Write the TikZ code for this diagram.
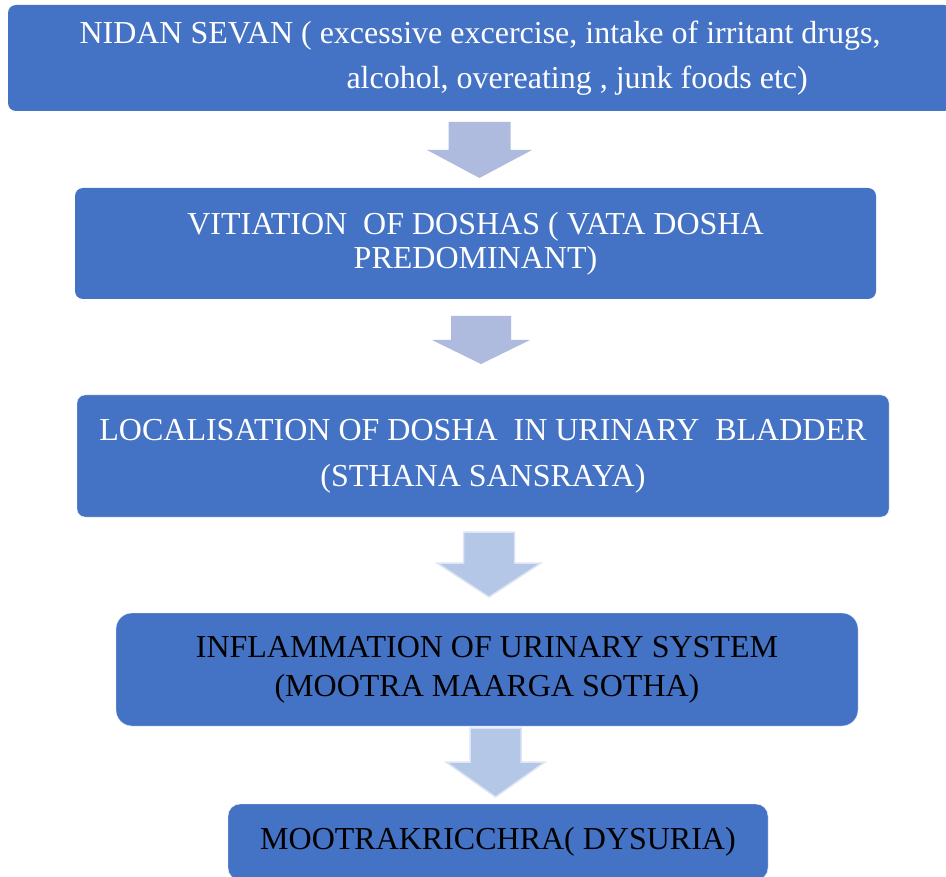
\documentclass[tikz,border=0pt]{standalone}
\usepackage{fontspec}
\setmainfont{Liberation Serif}
\definecolor{boxblue}{HTML}{4472C4}
\definecolor{arrowlav}{HTML}{AFBADF}
\definecolor{arrowsky}{HTML}{B4C7E7}
\definecolor{arrowrim}{HTML}{DDE5F4}
% down block arrow: centre x, top, head start, tip, shaft half, head half, style
\newcommand{\blockdown}[7]{%
  \filldraw[#7] (#1-#5,#2) -- (#1+#5,#2) -- (#1+#5,#3) -- (#1+#6,#3) -- (#1,#4)
    -- (#1-#6,#3) -- (#1-#5,#3) -- cycle;}
\begin{document}
\begin{tikzpicture}[x=1pt,y=-1pt,
  stage/.style={fill=boxblue, rounded corners=8pt, inner sep=0pt, align=center,
    font=\fontsize{32}{40}\selectfont},
  lavarrow/.style={fill=arrowlav, draw=none},
  skyarrow/.style={fill=arrowsky, draw=arrowrim, line width=1.5pt}]
\useasboundingbox (0,0) rectangle (946,877);
% stages:
\node[stage, text=white, minimum width=944, minimum height=106, align=left,
  font=\fontsize{32}{45}\selectfont] (nidan) at (480,58)
  {NIDAN SEVAN ( excessive excercise, intake of irritant drugs,\\
   \hspace*{267pt}alcohol, overeating , junk foods etc)};
\node[stage, text=white, minimum width=801, minimum height=111,
  font=\fontsize{32}{34}\selectfont] (vitiation) at (475.5,243.5)
  {VITIATION\ \ OF DOSHAS ( VATA DOSHA\\PREDOMINANT)};
\node[stage, text=white, draw=white!90!boxblue, minimum width=812, minimum height=122,
  font=\fontsize{32}{46}\selectfont] (sthana) at (483,456)
  {LOCALISATION OF DOSHA\ \ IN URINARY\ \ BLADDER\\(STHANA SANSRAYA)};
\node[stage, text=black, draw=white!90!boxblue, rounded corners=16pt, minimum width=742,
  minimum height=113, font=\fontsize{32}{39}\selectfont] (sotha) at (487,669.5)
  {INFLAMMATION OF URINARY SYSTEM\\(MOOTRA MAARGA SOTHA)};
\node[stage, text=black, draw=white!90!boxblue, rounded corners=12pt, minimum width=540,
  minimum height=76] (dysuria) at (498,842)
  {MOOTRAKRICCHRA( DYSURIA)};
% arrows between stages:
\blockdown{479.5}{122}{150}{178}{31}{52.5}{lavarrow}
\blockdown{481}{316}{340}{364}{30}{49}{lavarrow}
\blockdown{489}{532}{563}{597}{25.5}{52}{skyarrow}
\blockdown{495.5}{728}{762}{797}{25.5}{49.5}{skyarrow}
\end{tikzpicture}
\end{document}
